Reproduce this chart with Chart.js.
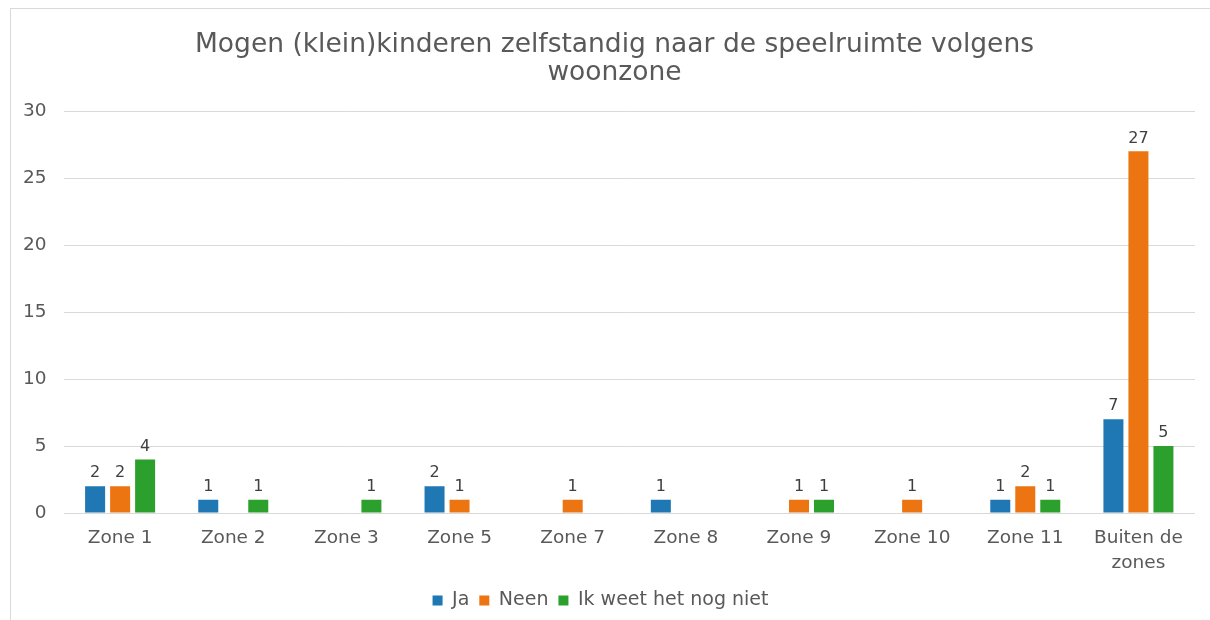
<!DOCTYPE html>
<html>
<head>
<meta charset="utf-8">
<script src="https://cdn.jsdelivr.net/npm/chart.js@4"></script>
<style>
  html, body { margin: 0; padding: 0; background: #fff; overflow: hidden; }
  #wrap { position: absolute; left: 0; top: 0; width: 1210px; height: 620px; }
  #frame { position: absolute; left: 10px; top: 8px; width: 1220px; height: 640px; border: 1px solid #d9d9d9; }
</style>
</head>
<body>
<div id="frame"></div>
<div id="wrap"><canvas id="grafico" width="1210" height="620"></canvas></div>
<script>
// categorieën en waarden
const zones = ['Zone 1', 'Zone 2', 'Zone 3', 'Zone 5', 'Zone 7', 'Zone 8', 'Zone 9', 'Zone 10', 'Zone 11', ['Buiten de', 'zones']];
const ja = [2, 1, null, 2, null, 1, null, null, 1, 7];
const neen = [2, null, null, 1, 1, null, 1, 1, 2, 27];
const weetNiet = [4, 1, 1, null, null, null, 1, null, 1, 5];
const yTicks = [0, 5, 10, 15, 20, 25, 30];

const grijs = '#595959';
const lettertype = '"DejaVu Sans"';

// labels boven de staven
const waardeLabels = {
    id: 'waardeLabels',
    afterLayout(chart) {
        // titel iets naar rechts, zoals in het origineel
        chart.titleBlock.left += 28;
    },
    afterDatasetsDraw(chart) {
        const ctx = chart.ctx;
        ctx.save();
        ctx.font = '16px ' + lettertype;
        ctx.fillStyle = '#404040';
        ctx.textAlign = 'center';
        ctx.textBaseline = 'bottom';
        chart.data.datasets.forEach((ds, i) => {
            chart.getDatasetMeta(i).data.forEach((bar, j) => {
                const v = ds.data[j];
                if (v === null || v === undefined) return;
                ctx.fillText(String(v), bar.x, bar.y - 5);
            });
        });
        ctx.restore();
    }
};

new Chart(document.getElementById('grafico').getContext('2d'), {
    type: 'bar',
    data: {
        labels: zones,
        datasets: [
            { label: 'Ja', data: ja, backgroundColor: '#1f77b4' },
            { label: 'Neen', data: neen, backgroundColor: '#ec7411' },
            { label: 'Ik weet het nog niet', data: weetNiet, backgroundColor: '#2ca02c' }
        ]
    },
    options: {
        responsive: false,
        animation: false,
        devicePixelRatio: 1,
        layout: { padding: { left: 6, right: 15, top: 21, bottom: 0 } },
        datasets: { bar: { categoryPercentage: 0.663, barPercentage: 0.8 } },
        plugins: {
            title: {
                display: true,
                text: ['Mogen (klein)kinderen zelfstandig naar de speelruimte volgens', 'woonzone'],
                color: grijs,
                font: { family: lettertype, size: 26.5, weight: 'normal', lineHeight: 1.06 },
                padding: { top: 10, bottom: 24 }
            },
            legend: {
                position: 'bottom',
                labels: {
                    color: grijs,
                    boxWidth: 10,
                    boxHeight: 10,
                    padding: 10,
                    font: { family: lettertype, size: 19 }
                }
            },
            tooltip: { enabled: false }
        },
        scales: {
            x: {
                grid: { display: false },
                border: { display: false },
                ticks: { color: grijs, font: { family: lettertype, size: 18.5, lineHeight: 1.35 }, padding: 5, maxRotation: 0, autoSkip: false }
            },
            y: {
                min: 0,
                max: 30,
                afterBuildTicks(axis) { axis.ticks = yTicks.map(v => ({ value: v })); },
                grid: { color: '#d9d9d9', drawTicks: false },
                border: { display: false },
                ticks: { color: grijs, font: { family: lettertype, size: 18.5 }, padding: 17 }
            }
        }
    },
    plugins: [waardeLabels]
});
</script>
</body>
</html>
